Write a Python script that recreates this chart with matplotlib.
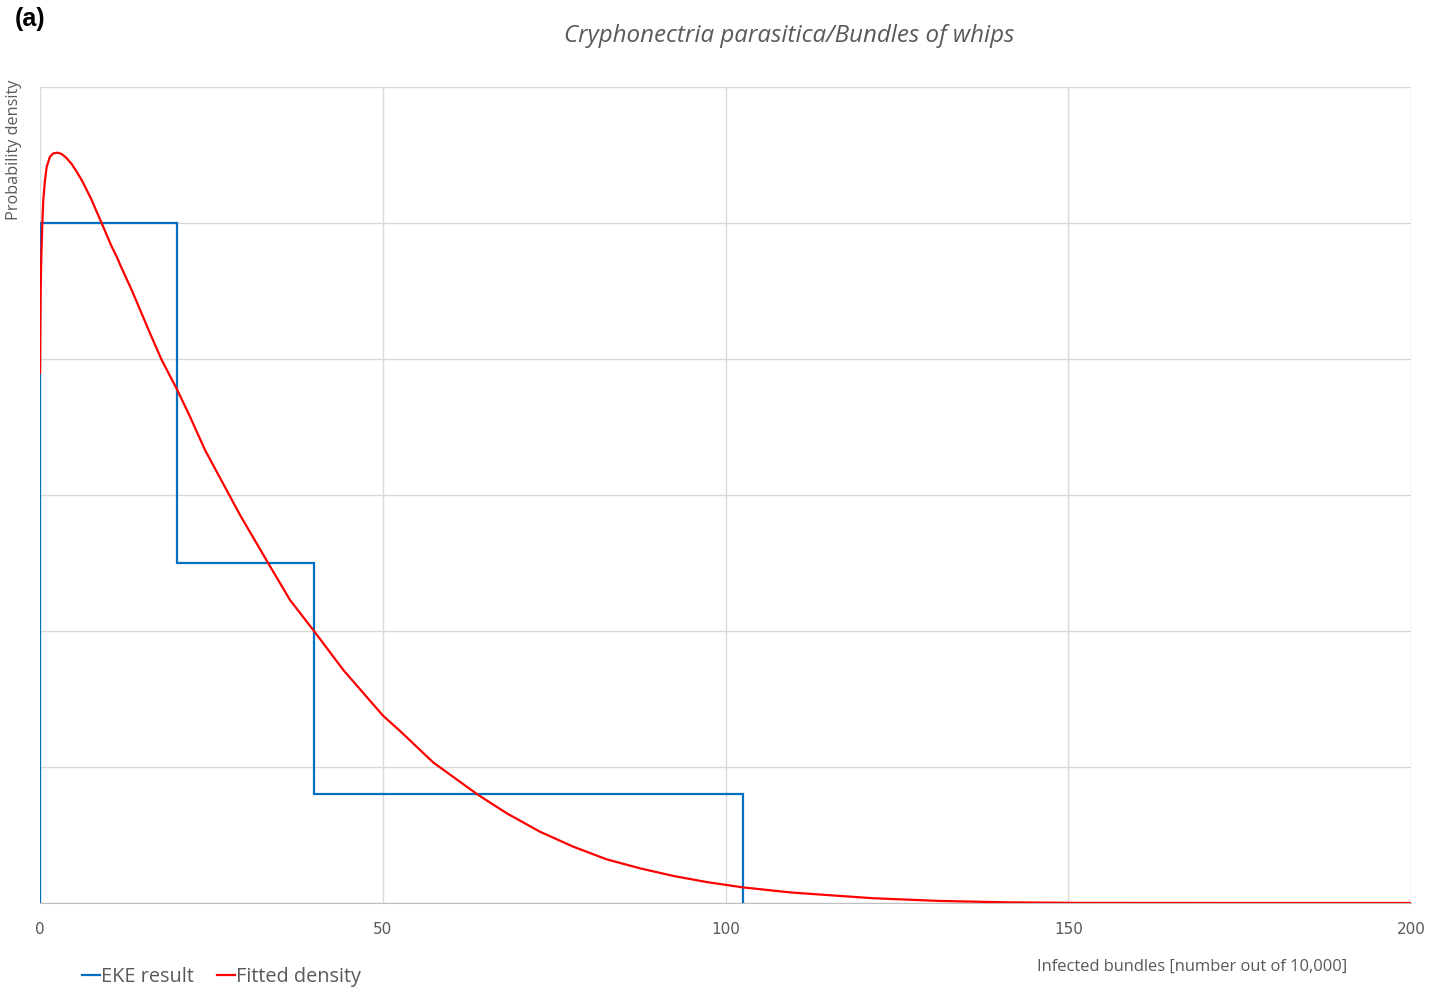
import numpy as np
import matplotlib.pyplot as plt

# EKE result (step histogram)
eke_edges = [0, 20, 40, 102.5]
eke_density = [5.0, 2.5, 0.8]

# fitted density
fit_x = [0, 0.10, 0.19, 0.34, 0.48, 0.73, 0.98, 1.46, 1.94, 2.58, 3.17, 3.90,
         4.62, 5.35, 6.08, 6.81, 7.54, 8.27, 9.00, 10.46, 11.19, 11.92, 13.38,
         16.05, 17.75, 20.03, 21.88, 24.07, 29.18, 33.30, 36.47, 39.97, 44.25,
         50.08, 52.52, 57.37, 63.94, 68.08, 72.94, 77.80, 82.67, 87.53, 92.39,
         97.26, 102.51, 109.41, 111.85, 121.56, 131.29, 141.0, 150.7, 175, 200]
fit_y = [3.897, 4.507, 4.752, 4.998, 5.169, 5.316, 5.414, 5.488, 5.512, 5.517,
         5.507, 5.476, 5.434, 5.377, 5.316, 5.243, 5.169, 5.083, 4.998, 4.826,
         4.752, 4.667, 4.507, 4.189, 3.993, 3.772, 3.576, 3.331, 2.853, 2.498,
         2.228, 2.000, 1.713, 1.375, 1.265, 1.033, 0.794, 0.660, 0.524, 0.414,
         0.321, 0.255, 0.199, 0.154, 0.115, 0.078, 0.069, 0.035, 0.015, 0.005,
         0.001, 0.0, 0.0]

grey = '#595959'

fig = plt.figure(figsize=(14.29, 9.92), dpi=100)
ax = fig.add_axes([40/1429, 1 - 903/992, (1411 - 40)/1429, (903 - 87)/992])

ax.stairs(eke_density, eke_edges, baseline=0, color='#0070c0', linewidth=1.6,
          label='EKE result', zorder=3)
ax.plot(fit_x, fit_y, color='#ff0000', linewidth=1.6, label='Fitted density',
        zorder=4, solid_joinstyle='round')

ax.set_xlim(0, 200)
ax.set_ylim(0, 6)
ax.set_xticks([0, 50, 100, 150, 200])
ax.set_yticks(range(7))
ax.set_yticklabels([])
ax.grid(True, color='#d9d9d9', linewidth=1.0, zorder=0)
ax.tick_params(axis='both', length=0, labelsize=11, labelcolor=grey, pad=14)
for s in ['top', 'right', 'left']:
    ax.spines[s].set_visible(False)
ax.spines['bottom'].set_color('#bfbfbf')
ax.set_axisbelow(True)

fig.text(789/1429, 1 - 36/992, 'Cryphonectria parasitica/Bundles of whips',
         ha='center', va='center', fontsize=17.4, style='italic', color=grey,
         family='Open Sans')
fig.text(15/1429, 1 - 19/992, '(a)', ha='left', va='center', fontsize=18,
         fontweight='bold', family='Liberation Sans')
fig.text(14/1429, 1 - 150/992, 'Probability density', rotation=90, ha='center',
         va='center', fontsize=11.7, color=grey, family='Open Sans')
fig.text(1192/1429, 1 - 967/992, 'Infected bundles [number out of 10,000]',
         ha='center', va='center', fontsize=11.9, color=grey, family='Open Sans')

leg = fig.legend(loc='center left', bbox_to_anchor=(64/1429, 1 - 977/992), ncol=2,
                 frameon=False, handlelength=0.9, handletextpad=0.05,
                 columnspacing=1.2, prop={'family': 'Open Sans', 'size': 14.3})
for t in leg.get_texts():
    t.set_color(grey)

fig.savefig('out.png', dpi=100)
